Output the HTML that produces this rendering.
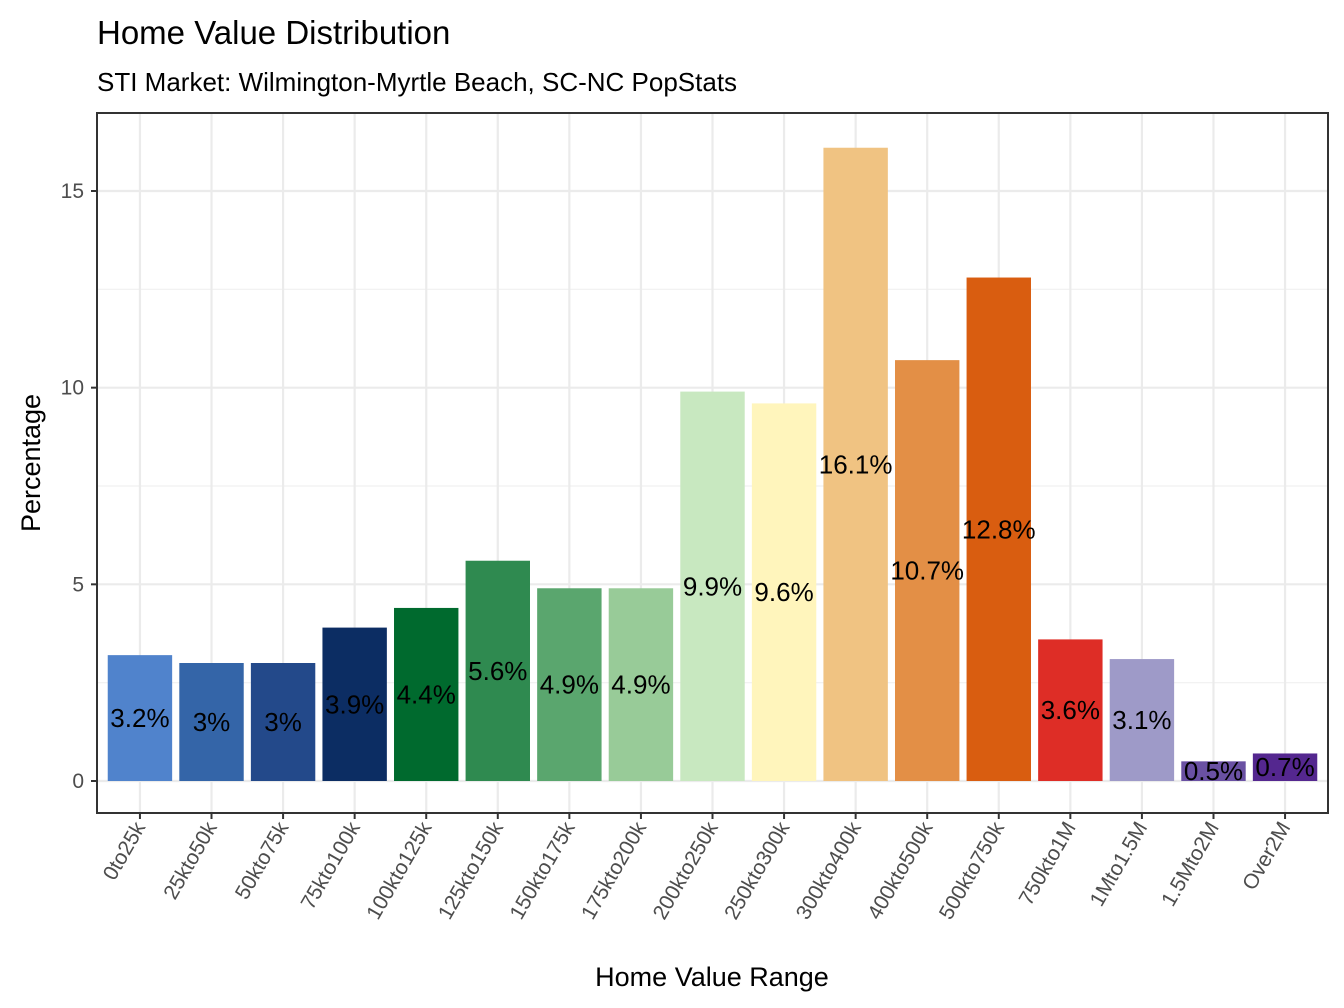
<!DOCTYPE html>
<html><head><meta charset="utf-8"><style>body{margin:0;background:#fff}svg{display:block;font-family:"Liberation Sans",Arial,sans-serif}</style></head>
<body>
<svg id="chart" width="1344" height="1008" viewBox="0 0 1344 1008">
<text x="97" y="44" font-size="33" fill="#000">Home Value Distribution</text>
<text x="97" y="91" font-size="26" fill="#000">STI Market: Wilmington-Myrtle Beach, SC-NC PopStats</text>
<g id="plot"></g>
<text x="712" y="986" font-size="27" text-anchor="middle">Home Value Range</text>
<text transform="translate(40,463) rotate(-90)" font-size="27" text-anchor="middle">Percentage</text>
</svg>
<script>
const categories = ["0to25k","25kto50k","50kto75k","75kto100k","100kto125k","125kto150k","150kto175k","175kto200k","200kto250k","250kto300k","300kto400k","400kto500k","500kto750k","750kto1M","1Mto1.5M","1.5Mto2M","Over2M"];
const values = [3.2,3.0,3.0,3.9,4.4,5.6,4.9,4.9,9.9,9.6,16.1,10.7,12.8,3.6,3.1,0.5,0.7];
const labels = ["3.2%","3%","3%","3.9%","4.4%","5.6%","4.9%","4.9%","9.9%","9.6%","16.1%","10.7%","12.8%","3.6%","3.1%","0.5%","0.7%"];
const colors = ["#5083CC","#3465A8","#23498A","#0C2D63","#006A2E","#2F8A50","#5AA66E","#98CB98","#C8E8C0","#FFF5BC","#F0C382","#E38F46","#D95D10","#DE2D26","#9E9AC8","#6A51A3","#54278F"];
const yTicks = [0,5,10,15];
const yMinor = [2.5,7.5,12.5];

const NS="http://www.w3.org/2000/svg";
const g=document.getElementById('plot');
const L=97,R=1328,T=113,B=813;
const step=(R-L)/(categories.length-1+1.2);
const xPos=i=>L+step*(0.6+i);
const y0=781, ppu=(781-191)/15;
const yPos=v=>y0-v*ppu;
function mk(tag,attrs){const e=document.createElementNS(NS,tag);for(const k in attrs)e.setAttribute(k,attrs[k]);g.appendChild(e);return e;}
yMinor.forEach(v=>{const e=mk('line',{x1:L,x2:R,y1:yPos(v),y2:yPos(v),stroke:'#f0f0f0','stroke-width':1.2});

});
yTicks.forEach(v=>{const e=mk('line',{x1:L,x2:R,y1:yPos(v),y2:yPos(v),stroke:'#ebebeb','stroke-width':2.2});


const t=mk('line',{x1:91,x2:97,y1:yPos(v),y2:yPos(v),stroke:'#333','stroke-width':2});


const tx=mk('text',{x:84,y:yPos(v)+7,'font-size':21,fill:'#4d4d4d','text-anchor':'end'});tx.textContent=v;

});
categories.forEach((c,i)=>{const x=xPos(i);const e=mk('line',{x1:x,x2:x,y1:T,y2:B,stroke:'#ebebeb','stroke-width':2.2});

});
const bw=step*0.9;
categories.forEach((c,i)=>{const x=xPos(i);
const b=mk('rect',{x:x-bw/2,y:yPos(values[i]),width:bw,height:y0-yPos(values[i]),fill:colors[i]});


const lt=mk('text',{x:x,y:yPos(values[i]/2)+9,'font-size':26,'text-anchor':'middle',fill:'#000'});lt.textContent=labels[i];


const t=mk('line',{x1:x,x2:x,y1:B,y2:B+6,stroke:'#333','stroke-width':2});


const tx=mk('text',{transform:`translate(${x+6},${B+14}) rotate(-60)`,'font-size':21,fill:'#4d4d4d','text-anchor':'end'});tx.textContent=c;

});
const fr=mk('rect',{x:L,y:T,width:R-L,height:B-T,fill:'none',stroke:'#333','stroke-width':2});


</script>
</body></html>
